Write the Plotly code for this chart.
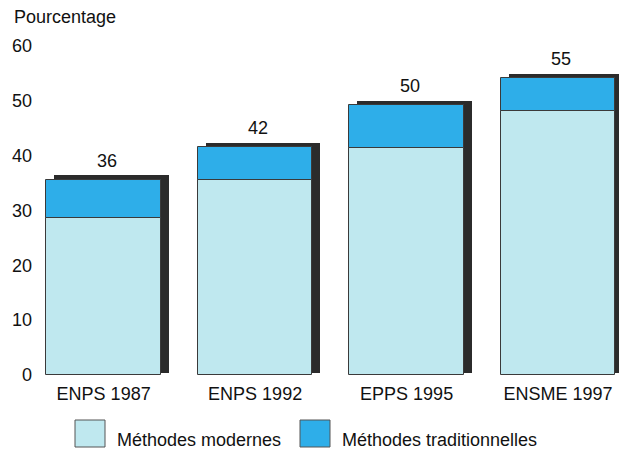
import plotly.graph_objects as go

surveys = ["ENPS 1987", "ENPS 1992", "EPPS 1995", "ENSME 1997"]
modernes = [28.6, 35.6, 41.4, 48.1]
traditionnelles = [7.0, 6.0, 7.8, 6.0]
totals = [36, 42, 50, 55]
yTicks = [0, 10, 20, 30, 40, 50, 60]

colModern = "#bfe8ef"
colTrad = "#2eaee9"
colShadow = "#2b2b2b"
fontName = "Liberation Sans, Arial, sans-serif"

xPos = list(range(len(surveys)))
barWidth = 0.755
stacked = [m + t for m, t in zip(modernes, traditionnelles)]

# plot area spans 574 x 329 px, from x=45 and down to y=375 in the page
plotW, plotH = 574, 329

def px(xRef):
    return (xRef - 45) / plotW

def py(yRef):
    return (375 - yRef) / plotH

fig = go.Figure()
# dark shadow behind each bar, shifted right and up
fig.add_bar(x=[p + 0.052 for p in xPos], y=[s + 0.5 for s in stacked], base=0.3,
            width=barWidth, marker=dict(color=colShadow, line=dict(width=0)),
            showlegend=False, hoverinfo="skip")
fig.add_bar(x=xPos, y=modernes, width=barWidth, name="Méthodes modernes",
            marker=dict(color=colModern, line=dict(color="#3a3a3a", width=1)),
            showlegend=False)
fig.add_bar(x=xPos, y=traditionnelles, base=modernes, width=barWidth,
            name="Méthodes traditionnelles",
            marker=dict(color=colTrad, line=dict(color="#3a3a3a", width=1)),
            showlegend=False)

# total labels above bars
for p, s, t in zip(xPos, stacked, totals):
    fig.add_annotation(x=p + 0.02, y=s, text=str(t), showarrow=False,
                       yanchor="bottom", yshift=7, font=dict(size=18, color="#111"))

fig.add_annotation(x=px(12), y=py(17), xref="paper", yref="paper", xanchor="left",
                   yanchor="middle", text="Pourcentage", showarrow=False,
                   font=dict(size=18, color="#111"))

# legend swatches drawn by hand to get the large boxes
legendItems = [("Méthodes modernes", colModern, 75), ("Méthodes traditionnelles", colTrad, 300)]
for label, col, x0 in legendItems:
    fig.add_shape(type="rect", xref="paper", yref="paper",
                  x0=px(x0), x1=px(x0 + 30), y0=py(447), y1=py(420),
                  fillcolor=col, line=dict(color="#555", width=1))
    fig.add_annotation(xref="paper", yref="paper", x=px(x0 + 40), y=py(440),
                       xanchor="left", yanchor="middle", text=label,
                       showarrow=False, font=dict(size=18, color="#111"))

fig.update_layout(
    width=619, height=452,
    margin=dict(l=45, r=0, t=46, b=77),
    barmode="overlay",
    plot_bgcolor="white", paper_bgcolor="white",
    font=dict(family=fontName, size=18, color="#111"),
    bargap=0,
)
fig.update_xaxes(range=[-0.387, 3.402], tickvals=xPos, ticktext=surveys,
                 showgrid=False, zeroline=False, showline=False, ticks="",
                 ticklabelstandoff=6)
fig.update_yaxes(range=[0, 60], tickvals=yTicks, showgrid=False, zeroline=False,
                 showline=False, ticks="", ticklabelstandoff=12)

# drop the page's default body margin so the figure sits at the window's corner
fig.write_html("out.html", config={"displayModeBar": False},
               post_script="document.body.style.margin='0';document.body.style.overflow='hidden';")
